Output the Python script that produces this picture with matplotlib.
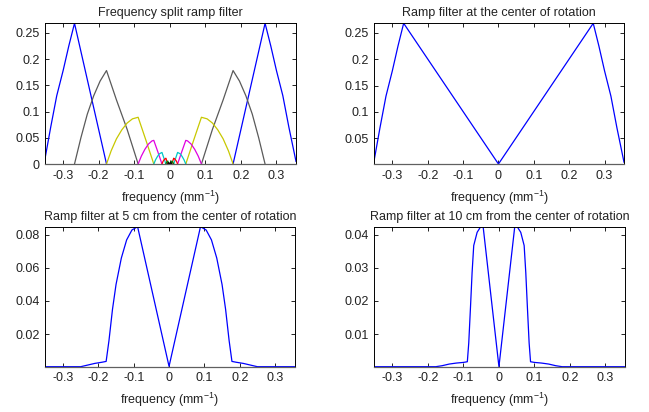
import matplotlib
matplotlib.use("Agg")
import matplotlib.pyplot as plt

plt.rcParams['font.family'] = ['Liberation Sans', 'DejaVu Sans']
plt.rcParams['mathtext.default'] = 'regular'
plt.rcParams['axes.unicode_minus'] = False

nan = float('nan')

# ---------------- data ----------------
titles = ["Frequency split ramp filter",
          "Ramp filter at the center of rotation",
          "Ramp filter at 5 cm from the center of rotation",
          "Ramp filter at 10 cm from the center of rotation"]
xlabel_text = "frequency (mm$^{-1}$)"
x_limits = [-0.351, 0.355]
x_ticks = [-0.3, -0.2, -0.1, 0, 0.1, 0.2, 0.3]
x_ticklabels = ["-0.3", "-0.2", "-0.1", "0", "0.1", "0.2", "0.3"]

# Panel 1: frequency split components (nan separates left / right halves)
split_colors = ["#0000ff", "#5a5a5a", "#c8c800", "#e000e0", "#00c8c8", "#ff0000", "#008000", "#000000"]
split_x = [
    [-0.351, -0.335, -0.318, -0.300, -0.284, -0.268, -0.178, nan,
     0.178, 0.268, 0.284, 0.300, 0.318, 0.335, 0.355],
    [-0.268, -0.250, -0.232, -0.214, -0.196, -0.178, -0.150, -0.120, -0.089, nan,
     0.089, 0.120, 0.150, 0.178, 0.196, 0.214, 0.232, 0.250, 0.268],
    [-0.178, -0.165, -0.150, -0.135, -0.120, -0.105, -0.089, -0.067, -0.045, nan,
     0.045, 0.067, 0.089, 0.105, 0.120, 0.135, 0.150, 0.165, 0.178],
    [-0.089, -0.080, -0.070, -0.060, -0.050, -0.045, -0.033, -0.022, nan,
     0.022, 0.033, 0.045, 0.050, 0.060, 0.070, 0.080, 0.089],
    [-0.045, -0.040, -0.035, -0.030, -0.025, -0.022, -0.016, -0.011, nan,
     0.011, 0.016, 0.022, 0.025, 0.030, 0.035, 0.040, 0.045],
    [-0.022, -0.019, -0.016, -0.013, -0.011, -0.0056, nan,
     0.0056, 0.011, 0.013, 0.016, 0.019, 0.022],
    [-0.011, -0.008, -0.0056, -0.0028, nan, 0.0028, 0.0056, 0.008, 0.011],
    [-0.0056, -0.0028, 0.0, 0.0028, 0.0056],
]
split_y = [
    [0.010, 0.070, 0.130, 0.178, 0.225, 0.268, 0.0, nan,
     0.0, 0.268, 0.225, 0.178, 0.130, 0.070, 0.005],
    [0.0, 0.050, 0.095, 0.130, 0.158, 0.178, 0.122, 0.066, 0.0, nan,
     0.0, 0.066, 0.122, 0.178, 0.158, 0.130, 0.095, 0.050, 0.0],
    [0.0, 0.025, 0.048, 0.065, 0.078, 0.086, 0.089, 0.045, 0.0, nan,
     0.0, 0.045, 0.089, 0.086, 0.078, 0.065, 0.048, 0.025, 0.0],
    [0.0, 0.015, 0.028, 0.038, 0.044, 0.045, 0.022, 0.0, nan,
     0.0, 0.022, 0.045, 0.044, 0.038, 0.028, 0.015, 0.0],
    [0.0, 0.008, 0.014, 0.019, 0.021, 0.022, 0.010, 0.0, nan,
     0.0, 0.010, 0.022, 0.021, 0.019, 0.014, 0.008, 0.0],
    [0.0, 0.005, 0.008, 0.010, 0.011, 0.0, nan,
     0.0, 0.011, 0.010, 0.008, 0.005, 0.0],
    [0.0, 0.004, 0.0056, 0.0, nan, 0.0, 0.0056, 0.004, 0.0],
    [0.0, 0.0028, 0.0, 0.0028, 0.0],
]
split_yticks = [0, 0.05, 0.1, 0.15, 0.2, 0.25]
split_yticklabels = ["0", "0.05", "0.1", "0.15", "0.2", "0.25"]
split_ylim = [0.0, 0.268]

# Panel 2: ramp at center of rotation
center_x = [-0.351, -0.335, -0.318, -0.300, -0.284, -0.268, 0.0, 0.268, 0.284, 0.300, 0.318, 0.335, 0.355]
center_y = [0.010, 0.070, 0.130, 0.178, 0.225, 0.268, 0.0015, 0.268, 0.225, 0.178, 0.130, 0.070, 0.005]
center_yticks = [0.05, 0.1, 0.15, 0.2, 0.25]
center_yticklabels = ["0.05", "0.1", "0.15", "0.2", "0.25"]
center_ylim = [0.0015, 0.268]

# Panel 3: 5 cm from center
r5_x = [-0.351, -0.250, -0.230, -0.210, -0.190, -0.178, -0.170, -0.160, -0.150, -0.135, -0.120, -0.105, -0.089,
        0.0, 0.089, 0.105, 0.120, 0.135, 0.150, 0.160, 0.170, 0.178, 0.190, 0.210, 0.230, 0.250, 0.355]
r5_y = [0.0002, 0.0002, 0.0012, 0.0022, 0.0029, 0.0034, 0.016, 0.035, 0.050, 0.066, 0.077, 0.083, 0.085,
        0.0004, 0.085, 0.083, 0.077, 0.066, 0.050, 0.035, 0.016, 0.0034, 0.0029, 0.0022, 0.0012, 0.0002, 0.0002]
r5_yticks = [0.02, 0.04, 0.06, 0.08]
r5_yticklabels = ["0.02", "0.04", "0.06", "0.08"]
r5_ylim = [0.0002, 0.085]

# Panel 4: 10 cm from center
r10_x = [-0.351, -0.178, -0.160, -0.140, -0.120, -0.100, -0.089, -0.085, -0.080, -0.0756, -0.071, -0.0614, -0.052, -0.0445,
         0.0, 0.0445, 0.052, 0.0614, 0.071, 0.0756, 0.080, 0.085, 0.089, 0.100, 0.120, 0.140, 0.160, 0.178, 0.355]
r10_y = [0.0001, 0.0001, 0.0004, 0.0009, 0.0012, 0.0014, 0.0016, 0.0073, 0.0184, 0.0286, 0.0368, 0.0408, 0.0424, 0.0425,
         0.0001, 0.0425, 0.0424, 0.0408, 0.0368, 0.0286, 0.0184, 0.0073, 0.0016, 0.0014, 0.0012, 0.0009, 0.0004, 0.0001, 0.0001]
r10_yticks = [0.01, 0.02, 0.03, 0.04]
r10_yticklabels = ["0.01", "0.02", "0.03", "0.04"]
r10_ylim = [0.0001, 0.0425]

# ---------------- figure ----------------
W, H = 649, 412
fig = plt.figure(figsize=(W / 100, H / 100), dpi=100)

def box(l, r, t, b):
    return [l / W, 1 - b / H, (r - l) / W, (b - t) / H]

axes = [fig.add_axes(box(45, 296, 23.3, 164)),
        fig.add_axes(box(374.3, 624, 23.3, 164)),
        fig.add_axes(box(45, 294.5, 226.7, 366.7)),
        fig.add_axes(box(374.3, 625, 226.7, 366.7))]

FS = 9

def style(ax, title, yticks, ylabels, ylim):
    ax.set_xlim(x_limits)
    ax.set_ylim(ylim)
    ax.set_xticks(x_ticks)
    ax.set_xticklabels(x_ticklabels)
    ax.set_yticks(yticks)
    ax.set_yticklabels(ylabels)
    ax.tick_params(direction='in', length=3, width=0.6, top=True, right=True,
                   labelsize=FS, pad=4, colors='black', labelcolor='#222222')
    for s in ['left', 'top', 'right']:
        ax.spines[s].set_color('black')
        ax.spines[s].set_linewidth(0.7)
    ax.spines['bottom'].set_color('#606060')
    ax.spines['bottom'].set_linewidth(0.9)
    ax.set_title(title, fontsize=FS, color='#222222', pad=5)
    ax.set_xlabel(xlabel_text, fontsize=FS, color='#222222', labelpad=5)

ax = axes[0]
for xs, ys, c in zip(split_x, split_y, split_colors):
    ax.plot(xs, ys, color=c, lw=0.9)
style(ax, titles[0], split_yticks, split_yticklabels, split_ylim)

ax = axes[1]
ax.plot(center_x, center_y, color='#0000ff', lw=0.9)
style(ax, titles[1], center_yticks, center_yticklabels, center_ylim)

ax = axes[2]
ax.plot(r5_x, r5_y, color='#0000ff', lw=0.9)
style(ax, titles[2], r5_yticks, r5_yticklabels, r5_ylim)

ax = axes[3]
ax.plot(r10_x, r10_y, color='#0000ff', lw=0.9)
style(ax, titles[3], r10_yticks, r10_yticklabels, r10_ylim)

fig.savefig("out.png", dpi=100)
